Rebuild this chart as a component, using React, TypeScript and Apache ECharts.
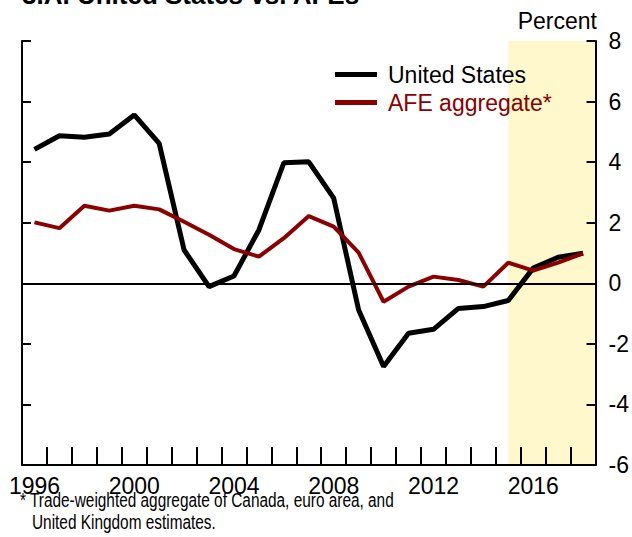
import React, { useEffect, useRef } from 'react';
import * as echarts from 'echarts';

const years = ['1996','1997','1998','1999','2000','2001','2002','2003','2004','2005','2006','2007','2008','2009','2010','2011','2012','2013','2014','2015','2016','2017','2018'];
const usGrowth = [4.42, 4.87, 4.82, 4.93, 5.56, 4.62, 1.10, -0.11, 0.24, 1.76, 3.98, 4.01, 2.81, -0.88, -2.75, -1.65, -1.52, -0.83, -0.77, -0.57, 0.50, 0.86, 0.99];
const afeGrowth = [2.01, 1.82, 2.56, 2.40, 2.56, 2.44, 2.03, 1.60, 1.13, 0.88, 1.49, 2.22, 1.87, 1.01, -0.61, -0.11, 0.22, 0.11, -0.11, 0.68, 0.42, 0.68, 0.99];
const yMin = -6;
const yMax = 8;
const yInterval = 2;
const shadeStartYear = '2015';
const seriesNames = ['United States', 'AFE aggregate*'];
const titleText = '3.A. United States vs. AFEs';
const unitText = 'Percent';
const footnoteLines = ['* Trade-weighted aggregate of Canada, euro area, and', 'United Kingdom estimates.'];

const FONT = '"Liberation Sans", Arial, sans-serif';
const BLACK = '#000000';
const RED = '#8B0000';

export default function App() {
  const ref = useRef<HTMLDivElement>(null);
  useEffect(() => {
    const chart = echarts.init(ref.current as HTMLDivElement, null, { renderer: 'svg' });
    const shadeStart = years.indexOf(shadeStartYear);
    const tickStyle = { color: BLACK, width: 2 };
    chart.setOption({
      animation: false,
      backgroundColor: '#ffffff',
      textStyle: { fontFamily: FONT },
      grid: { left: 22, right: 35, top: 41, bottom: 72, containLabel: false },
      legend: {
        orient: 'vertical',
        left: 335,
        top: 63,
        padding: 0,
        itemWidth: 42,
        itemHeight: 5,
        itemGap: 5,
        icon: 'rect',
        textStyle: { fontSize: 23, fontFamily: FONT, padding: [0, 0, 0, 6] },
        data: [
          { name: seriesNames[0], textStyle: { color: BLACK } },
          { name: seriesNames[1], textStyle: { color: RED } },
        ],
      },
      xAxis: [
        {
          type: 'category',
          data: years,
          boundaryGap: true,
          z: 5,
          axisLine: { onZero: false, lineStyle: tickStyle },
          axisTick: { show: true, inside: true, length: 18, interval: 0, lineStyle: tickStyle },
          axisLabel: { interval: 3, fontSize: 23, color: BLACK, margin: 9, fontFamily: FONT },
          splitLine: { show: false },
        },
        { type: 'value', min: -0.5, max: years.length - 0.5, show: false, axisLine: { onZero: false } },
      ],
      yAxis: [
        {
          type: 'value', position: 'right', min: yMin, max: yMax, interval: yInterval, z: 5,
          axisLine: { show: true, onZero: false, lineStyle: tickStyle },
          axisTick: { show: true, inside: true, length: 9, lineStyle: tickStyle },
          axisLabel: { fontSize: 23, color: BLACK, margin: 13, fontFamily: FONT },
          splitLine: { show: false },
        },
        {
          type: 'value', position: 'left', min: yMin, max: yMax, interval: yInterval, z: 5,
          axisLine: { show: true, onZero: false, lineStyle: tickStyle },
          axisTick: { show: true, inside: true, length: 9, lineStyle: tickStyle },
          axisLabel: { show: false },
          splitLine: { show: false },
        },
      ],
      series: [
        {
          type: 'line',
          name: 'shade',
          xAxisIndex: 1,
          yAxisIndex: 0,
          data: [],
          z: 0,
          silent: true,
          markArea: {
            silent: true,
            itemStyle: { color: '#FFF8CC' },
            data: [[{ xAxis: shadeStart, yAxis: yMax }, { xAxis: years.length - 0.5, yAxis: yMin }]],
          },
        },
        {
          type: 'line',
          name: seriesNames[0],
          data: usGrowth,
          xAxisIndex: 0,
          yAxisIndex: 0,
          symbol: 'none',
          color: BLACK,
          lineStyle: { color: BLACK, width: 5 },
          z: 3,
          markLine: {
            silent: true,
            symbol: ['none', 'none'],
            label: { show: false },
            lineStyle: { color: BLACK, width: 2, type: 'solid' },
            data: [{ yAxis: 0 }],
          },
        },
        {
          type: 'line',
          name: seriesNames[1],
          data: afeGrowth,
          xAxisIndex: 0,
          yAxisIndex: 0,
          symbol: 'none',
          color: RED,
          lineStyle: { color: RED, width: 4 },
          z: 4,
        },
      ],
      graphic: [
        {
          type: 'text', x: 22, y: 8,
          style: { text: titleText, fontSize: 26, fontWeight: 'bold', fontFamily: FONT, fill: BLACK, align: 'left', verticalAlign: 'bottom' },
        },
        {
          type: 'text', x: 597, y: 21,
          style: { text: unitText, fontSize: 23, fontFamily: FONT, fill: BLACK, align: 'right', verticalAlign: 'middle' },
        },
        {
          type: 'text', x: 20, y: 500, scaleX: 0.77,
          style: { text: footnoteLines[0], fontSize: 20, fontFamily: FONT, fill: BLACK, align: 'left', verticalAlign: 'middle' },
        },
        {
          type: 'text', x: 32, y: 522, scaleX: 0.77,
          style: { text: footnoteLines[1], fontSize: 20, fontFamily: FONT, fill: BLACK, align: 'left', verticalAlign: 'middle' },
        },
      ],
    });
    return () => chart.dispose();
  }, []);
  return <div ref={ref} style={{ position: 'fixed', left: 0, top: 0, width: 632, height: 537 }} />;
}
